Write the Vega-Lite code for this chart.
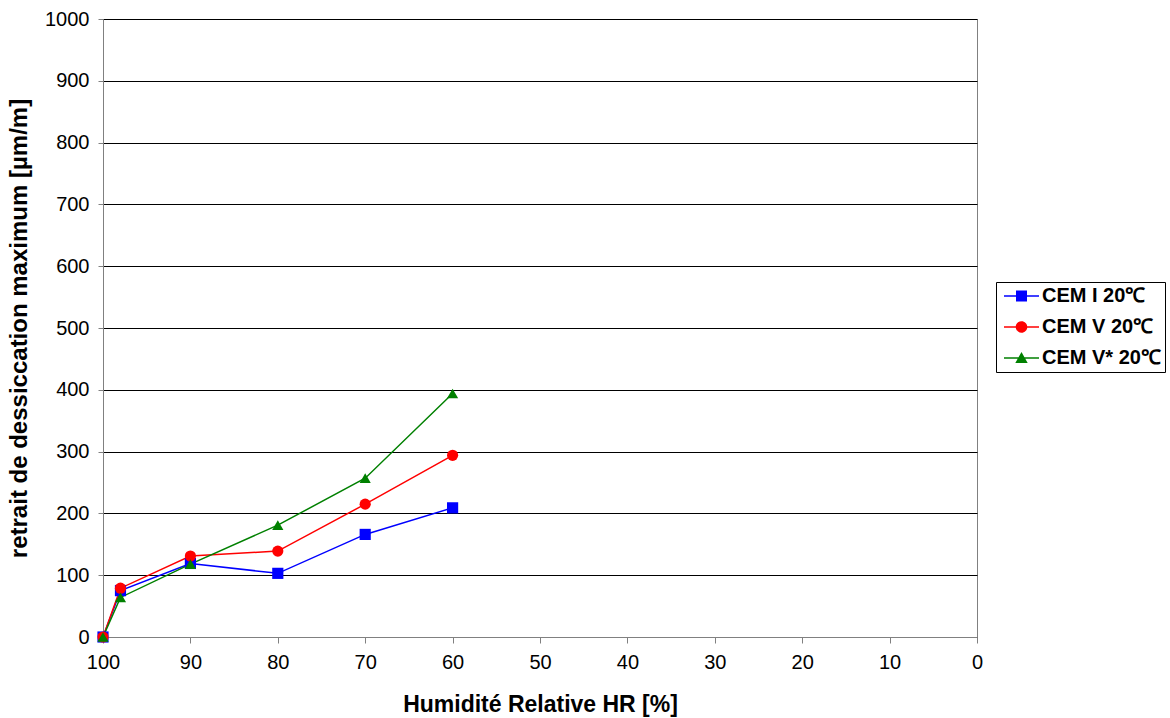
{
  "$schema": "https://vega.github.io/schema/vega-lite/v6.json",
  "autosize": {"type": "none"},
  "width": 874,
  "height": 618,
  "padding": {"left": 103, "top": 19, "right": 193, "bottom": 81},
  "background": "white",
  "config": {
    "font": "Liberation Sans",
    "view": {"stroke": "#808080", "strokeWidth": 1}
  },
  "data": {
    "values": [
      {"hr": 100, "v": 0, "s": "CEM I 20℃"},
      {"hr": 98, "v": 75, "s": "CEM I 20℃"},
      {"hr": 90, "v": 119, "s": "CEM I 20℃"},
      {"hr": 80, "v": 103, "s": "CEM I 20℃"},
      {"hr": 70, "v": 166, "s": "CEM I 20℃"},
      {"hr": 60, "v": 209, "s": "CEM I 20℃"},
      {"hr": 100, "v": 0, "s": "CEM V 20℃"},
      {"hr": 98, "v": 79, "s": "CEM V 20℃"},
      {"hr": 90, "v": 131, "s": "CEM V 20℃"},
      {"hr": 80, "v": 139, "s": "CEM V 20℃"},
      {"hr": 70, "v": 215, "s": "CEM V 20℃"},
      {"hr": 60, "v": 294, "s": "CEM V 20℃"},
      {"hr": 100, "v": 0, "s": "CEM V* 20℃"},
      {"hr": 98, "v": 64, "s": "CEM V* 20℃"},
      {"hr": 90, "v": 118, "s": "CEM V* 20℃"},
      {"hr": 80, "v": 181, "s": "CEM V* 20℃"},
      {"hr": 70, "v": 257, "s": "CEM V* 20℃"},
      {"hr": 60, "v": 394, "s": "CEM V* 20℃"}
    ]
  },
  "encoding": {
    "x": {
      "field": "hr", "type": "quantitative",
      "scale": {"domain": [100, 0], "nice": false},
      "axis": {
        "title": "Humidité Relative HR [%]",
        "values": [100, 90, 80, 70, 60, 50, 40, 30, 20, 10, 0],
        "grid": false, "labelFlush": false,
        "domainColor": "#808080", "tickColor": "#808080", "tickSize": 6,
        "labelFontSize": 20, "labelColor": "black", "labelPadding": 9,
        "titleFontSize": 23, "titleFontWeight": "bold", "titleColor": "black", "titlePadding": 21
      }
    },
    "y": {
      "field": "v", "type": "quantitative",
      "scale": {"domain": [0, 1000], "nice": false},
      "axis": {
        "title": "retrait de dessiccation maximum [µm/m]",
        "values": [0, 100, 200, 300, 400, 500, 600, 700, 800, 900, 1000],
        "format": "d", "labelFlush": false,
        "gridColor": "black", "gridOpacity": 1, "gridWidth": 1,
        "domainColor": "#808080", "tickColor": "#808080", "tickSize": 5,
        "labelFontSize": 20, "labelColor": "black", "labelPadding": 9,
        "titleFontSize": 24, "titleFontWeight": "bold", "titleColor": "black", "titlePadding": 13
      }
    }
  },
  "layer": [
    {
      "mark": {"type": "line", "strokeWidth": 1.5},
      "encoding": {
        "color": {
          "field": "s", "type": "nominal",
          "scale": {"domain": ["CEM I 20℃", "CEM V 20℃", "CEM V* 20℃"], "range": ["#0000ff", "#ff0000", "#008000"]},
          "legend": {
            "title": null, "orient": "none", "legendX": 893, "legendY": 263,
            "strokeColor": "black", "padding": 4, "labelFontSize": 20, "labelFontWeight": "bold",
            "labelColor": "black", "symbolSize": 400, "rowPadding": 11, "labelOffset": 22,
            "encode": {
              "symbols": {
                "update": {
                  "shape": {"signal": "datum.value === 'CEM I 20℃' ? 'M-0.6,-0.075H0.6V-0.55H1.7V-0.075H2.9V0.075H1.7V0.55H0.6V0.075H-0.6Z' : datum.value === 'CEM V 20℃' ? 'M-0.6,-0.075H2.9V0.075H-0.6Z M1.73,0A0.58,0.58 0 1,1 0.57,0A0.58,0.58 0 1,1 1.73,0Z' : 'M-0.6,-0.075H2.9V0.075H-0.6Z M1.15,-0.6L1.77,0.5H0.53Z'"},
                  "fill": {"scale": "color", "field": "value"},
                  "fillOpacity": {"value": 1},
                  "strokeWidth": {"value": 0}
                }
              }
            }
          }
        }
      }
    },
    {
      "transform": [{"filter": "datum.s === 'CEM I 20℃'"}],
      "mark": {"type": "point", "shape": "square", "filled": true, "size": 125, "color": "#0000ff", "opacity": 1}
    },
    {
      "transform": [{"filter": "datum.s === 'CEM V 20℃'"}],
      "mark": {"type": "point", "shape": "circle", "filled": true, "size": 125, "color": "#ff0000", "opacity": 1}
    },
    {
      "transform": [{"filter": "datum.s === 'CEM V* 20℃'"}],
      "mark": {"type": "point", "shape": "triangle-up", "filled": true, "size": 125, "color": "#008000", "opacity": 1}
    }
  ]
}
